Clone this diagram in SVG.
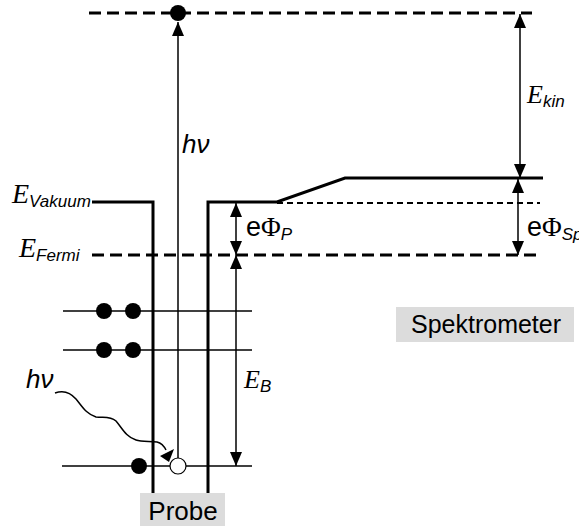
<svg xmlns="http://www.w3.org/2000/svg" width="579" height="526" viewBox="0 0 579 526">
<style>
.thick{stroke:#000;stroke-width:3;fill:none}
.thin{stroke:#000;stroke-width:1.5;fill:none}
.dash{stroke:#000;stroke-width:3;fill:none;stroke-dasharray:12 6}
.dot{stroke:#000;stroke-width:2;fill:none;stroke-dasharray:6 4}
.sans{font-family:"Liberation Sans",Arial,sans-serif}
.serif{font-family:"Liberation Serif","Times New Roman",serif}
.it{font-style:italic}
.box{fill:#dcdcdc}
</style>
<defs>
<marker id="ah" viewBox="0 0 14 12" refX="14" refY="6" markerWidth="14" markerHeight="12" markerUnits="userSpaceOnUse" orient="auto-start-reverse">
<path d="M0,0 L14,6 L0,12 Z" fill="#000"/>
</marker>
</defs>
<rect width="579" height="526" fill="#fff"/>
<g id="levels">
<line class="dash" x1="89" y1="13" x2="532" y2="13"/>
<line class="dash" x1="92" y1="255" x2="541" y2="255"/>
<line class="dot" x1="277" y1="203" x2="540" y2="203"/>
<path class="thick" d="M92,202 H153 V493"/>
<path class="thick" d="M208,493 V202 H277 L345,178 H543"/>
<line class="thin" x1="63" y1="311" x2="252" y2="311"/>
<line class="thin" x1="63" y1="350" x2="252" y2="350"/>
<line class="thin" x1="62" y1="466" x2="252" y2="466"/>
</g>
<g id="electrons">
<circle cx="178" cy="13" r="8" fill="#000"/>
<circle cx="104" cy="311" r="8" fill="#000"/>
<circle cx="133" cy="311" r="8" fill="#000"/>
<circle cx="104" cy="350" r="8" fill="#000"/>
<circle cx="133" cy="350" r="8" fill="#000"/>
<circle cx="139" cy="466" r="8" fill="#000"/>
<circle cx="178" cy="466" r="8" fill="#fff" stroke="#000" stroke-width="1.2"/>
</g>
<g id="connectors">
<line class="thin" x1="178" y1="458" x2="178" y2="22" marker-end="url(#ah)"/>
<line class="thin" x1="520" y1="14" x2="520" y2="178" marker-start="url(#ah)" marker-end="url(#ah)"/>
<line class="thin" x1="518" y1="179" x2="518" y2="255" marker-start="url(#ah)" marker-end="url(#ah)"/>
<line class="thin" x1="236" y1="203" x2="236" y2="255" marker-start="url(#ah)" marker-end="url(#ah)"/>
<line class="thin" x1="236" y1="255" x2="236" y2="466" marker-start="url(#ah)" marker-end="url(#ah)"/>
<path class="thin" stroke-width="1.2" d="M55,393 C63,390 70,392 76,399 C82,406 86,414 96,417 C104,418 110,416 116,421 C122,428 126,437 136,440 C142,442 150,441 157,442 C161,443 164,446 166,450"/>
<polygon points="174,449 160,456 169,462" fill="#000"/>
</g>
<g id="labels">
<text x="12" y="203" class="serif it" font-size="28">E<tspan class="sans" font-size="17" dy="4">Vakuum</tspan></text>
<text x="19" y="257" class="serif it" font-size="28">E<tspan class="sans" font-size="17" dy="4">Fermi</tspan></text>
<text x="527" y="103" class="serif it" font-size="26">E<tspan class="sans" font-size="17" dy="4">kin</tspan></text>
<text x="244" y="388" class="serif it" font-size="26">E<tspan class="sans" font-size="17" dy="4">B</tspan></text>
<text x="182" y="153" class="sans it" font-size="26">hν</text>
<text x="26" y="388" class="sans it" font-size="26">hν</text>
<text x="246" y="236" font-size="27"><tspan class="sans">e</tspan><tspan class="serif">Φ</tspan><tspan class="sans it" font-size="17" dy="4">P</tspan></text>
<text x="527" y="236" font-size="27"><tspan class="sans">e</tspan><tspan class="serif">Φ</tspan><tspan class="sans it" font-size="17" dy="4">Sp</tspan></text>
</g>
<g id="spektrometer">
<rect class="box" x="396" y="307" width="178" height="35"/>
<text x="486" y="333" class="sans" font-size="25" text-anchor="middle">Spektrometer</text>
</g>
<g id="probe">
<rect class="box" x="140" y="493" width="85" height="33"/>
<text x="183" y="520" class="sans" font-size="26" text-anchor="middle">Probe</text>
</g>
</svg>
